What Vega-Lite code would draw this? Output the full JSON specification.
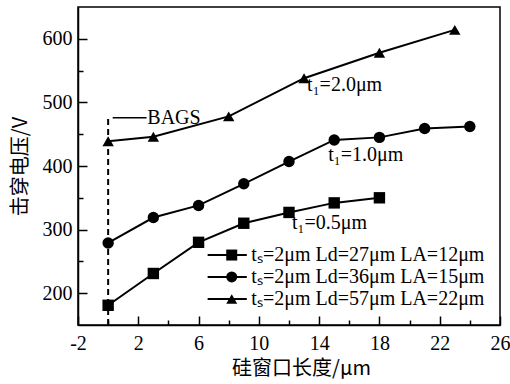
{
  "$schema": "https://vega.github.io/schema/vega-lite/v6.json",
  "width": 422,
  "height": 318,
  "autosize": "none",
  "padding": {"left": 78, "top": 7, "right": 10, "bottom": 59},
  "background": "white",
  "config": {
    "view": {"stroke": "black", "strokeWidth": 1.5}
  },
  "datasets": {
    "series": [
      {"s": "tₛ=2μm Ld=27μm LA=12μm", "x": 0, "y": 181},
      {"s": "tₛ=2μm Ld=27μm LA=12μm", "x": 3, "y": 231},
      {"s": "tₛ=2μm Ld=27μm LA=12μm", "x": 6, "y": 280},
      {"s": "tₛ=2μm Ld=27μm LA=12μm", "x": 9, "y": 310},
      {"s": "tₛ=2μm Ld=27μm LA=12μm", "x": 12, "y": 327},
      {"s": "tₛ=2μm Ld=27μm LA=12μm", "x": 15, "y": 342},
      {"s": "tₛ=2μm Ld=27μm LA=12μm", "x": 18, "y": 350},
      {"s": "tₛ=2μm Ld=36μm LA=15μm", "x": 0, "y": 279},
      {"s": "tₛ=2μm Ld=36μm LA=15μm", "x": 3, "y": 319},
      {"s": "tₛ=2μm Ld=36μm LA=15μm", "x": 6, "y": 338},
      {"s": "tₛ=2μm Ld=36μm LA=15μm", "x": 9, "y": 372},
      {"s": "tₛ=2μm Ld=36μm LA=15μm", "x": 12, "y": 407},
      {"s": "tₛ=2μm Ld=36μm LA=15μm", "x": 15, "y": 441},
      {"s": "tₛ=2μm Ld=36μm LA=15μm", "x": 18, "y": 445},
      {"s": "tₛ=2μm Ld=36μm LA=15μm", "x": 21, "y": 459},
      {"s": "tₛ=2μm Ld=36μm LA=15μm", "x": 24, "y": 462},
      {"s": "tₛ=2μm Ld=57μm LA=22μm", "x": 0, "y": 439},
      {"s": "tₛ=2μm Ld=57μm LA=22μm", "x": 3, "y": 446},
      {"s": "tₛ=2μm Ld=57μm LA=22μm", "x": 8, "y": 478},
      {"s": "tₛ=2μm Ld=57μm LA=22μm", "x": 13, "y": 538},
      {"s": "tₛ=2μm Ld=57μm LA=22μm", "x": 18, "y": 578},
      {"s": "tₛ=2μm Ld=57μm LA=22μm", "x": 23, "y": 614}
    ],
    "key": [
      {"s": "tₛ=2μm Ld=27μm LA=12μm", "x": 8.2, "x1": 6.6, "x2": 9.2, "tx": 9.5, "y": 260},
      {"s": "tₛ=2μm Ld=36μm LA=15μm", "x": 8.2, "x1": 6.6, "x2": 9.2, "tx": 9.5, "y": 225.5},
      {"s": "tₛ=2μm Ld=57μm LA=22μm", "x": 8.2, "x1": 6.6, "x2": 9.2, "tx": 9.5, "y": 191}
    ],
    "labels": [
      {"x": 13.2, "y": 527, "text": "t₁=2.0μm"},
      {"x": 14.6, "y": 417, "text": "t₁=1.0μm"},
      {"x": 12.2, "y": 310, "text": "t₁=0.5μm"},
      {"x": 2.6, "y": 476, "text": "BAGS"}
    ],
    "bags": [{"x": 0.3, "x2": 2.55, "y": 476}],
    "dash": [{"x": 0, "y": 150, "y2": 480}]
  },
  "encoding": {
    "x": {
      "field": "x", "type": "quantitative",
      "scale": {"domain": [-2, 26], "nice": false, "zero": false},
      "axis": {
        "values": [-2, 0, 2, 4, 6, 8, 10, 12, 14, 16, 18, 20, 22, 24, 26],
        "labelExpr": "(datum.value + 2) % 4 == 0 ? '' + datum.value : ''",
        "labelOverlap": false,
        "ticks": true,
        "tickColor": "black", "tickWidth": 1.5,
        "tickSize": {"condition": {"test": "(datum.value + 2) % 4 == 0", "value": -9}, "value": -5},
        "domainColor": "black", "domainWidth": 1.5,
        "grid": false,
        "labelFont": "Liberation Serif", "labelFontSize": 20, "labelColor": "black",
        "labelPadding": 17,
        "labelFlush": false,
        "title": "硅窗口长度/μm",
        "titleFont": "Noto Sans CJK SC", "titleFontSize": 20, "titleFontWeight": "normal", "titleColor": "black",
        "titleX": 223, "titleY": 43, "titleBaseline": "middle"
      }
    },
    "y": {
      "field": "y", "type": "quantitative",
      "scale": {"domain": [150, 650], "nice": false, "zero": false},
      "axis": {
        "values": [200, 250, 300, 350, 400, 450, 500, 550, 600],
        "labelExpr": "datum.value % 100 == 0 ? datum.label : ''",
        "labelOverlap": false,
        "ticks": true,
        "tickColor": "black", "tickWidth": 1.5,
        "tickSize": {"condition": {"test": "datum.value % 100 == 0", "value": -9}, "value": -5},
        "domainColor": "black", "domainWidth": 1.5,
        "grid": false,
        "labelFont": "Liberation Serif", "labelFontSize": 20, "labelColor": "black",
        "labelPadding": 15,
        "title": "击穿电压/V",
        "titleFont": "Noto Sans CJK SC", "titleFontSize": 20, "titleFontWeight": "normal", "titleColor": "black",
        "titleX": -58, "titleBaseline": "middle", "titleAngle": -90
      }
    }
  },
  "layer": [
    {
      "data": {"name": "dash"},
      "mark": {"type": "rule", "strokeDash": [6, 4], "strokeWidth": 2, "color": "black"},
      "encoding": {"y2": {"field": "y2"}}
    },
    {
      "data": {"name": "bags"},
      "mark": {"type": "rule", "strokeWidth": 1.5, "color": "black"},
      "encoding": {"x2": {"field": "x2"}}
    },
    {
      "data": {"name": "series"},
      "mark": {"type": "line", "color": "black", "strokeWidth": 2},
      "encoding": {"detail": {"field": "s"}}
    },
    {
      "data": {"name": "series"},
      "mark": {"type": "point", "filled": true, "color": "black", "size": 130, "opacity": 1},
      "encoding": {
        "shape": {
          "field": "s", "type": "nominal",
          "scale": {"range": ["square", "circle", "triangle-up"]},
          "legend": null
        }
      }
    },
    {
      "data": {"name": "key"},
      "mark": {"type": "rule", "strokeWidth": 2, "color": "black"},
      "encoding": {
        "x": {"field": "x1", "type": "quantitative"},
        "x2": {"field": "x2"}
      }
    },
    {
      "data": {"name": "key"},
      "mark": {"type": "point", "filled": true, "color": "black", "size": 121, "opacity": 1},
      "encoding": {
        "shape": {"field": "s", "type": "nominal", "legend": null}
      }
    },
    {
      "data": {"name": "key"},
      "mark": {"type": "text", "align": "left", "baseline": "middle", "font": "Liberation Serif", "fontSize": 20, "color": "black"},
      "encoding": {
        "x": {"field": "tx", "type": "quantitative"},
        "text": {"field": "s"}
      }
    },
    {
      "data": {"name": "labels"},
      "mark": {"type": "text", "align": "left", "baseline": "middle", "font": "Liberation Serif", "fontSize": 20, "color": "black"},
      "encoding": {"text": {"field": "text"}}
    }
  ]
}
